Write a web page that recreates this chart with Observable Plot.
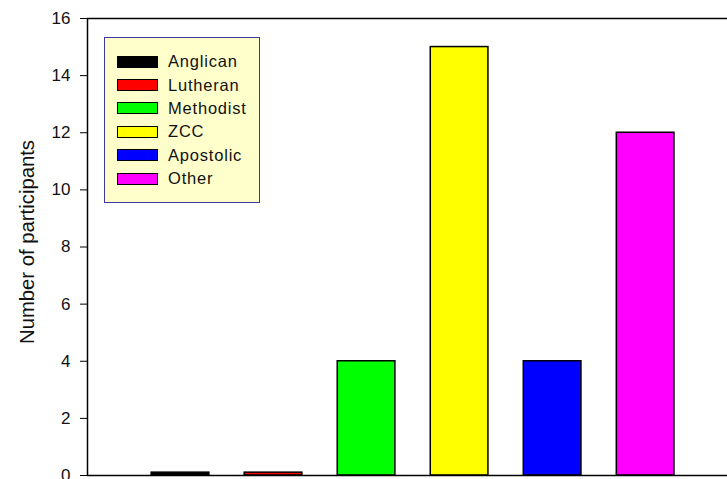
<!DOCTYPE html>
<html>
<head>
<meta charset="utf-8">
<script src="https://cdn.jsdelivr.net/npm/d3@7"></script>
<script src="https://cdn.jsdelivr.net/npm/@observablehq/plot@0.6"></script>
<style>
  html, body { margin: 0; padding: 0; background: #fff; overflow: hidden; }
  #wrap { position: relative; width: 727px; height: 479px; }
  #legend {
    position: absolute; left: 104px; top: 37px; width: 156px; height: 166px;
    background: #ffffcc; border: 1px solid #3a3aa0; box-sizing: border-box;
    font-family: "Liberation Sans", Arial, sans-serif; font-size: 16.5px; color: #111;
    padding-top: 12px;
  }
  .row { display: flex; align-items: center; height: 23.4px; }
  .sw { width: 41px; height: 12px; border: 1px solid #000; margin-left: 12px; margin-right: 10px; box-sizing: border-box; flex: none; }
  .lb { letter-spacing: 0.8px; white-space: nowrap; }
</style>
</head>
<body>
<div id="wrap"></div>
<script>
const categories = ["Anglican", "Lutheran", "Methodist", "ZCC", "Apostolic", "Other"];
const values = [0.1, 0.1, 4, 15, 4, 12];
const colors = ["#000000", "#ff0000", "#00ff00", "#ffff00", "#0000ff", "#ff00ff"];
const yTicks = [0, 2, 4, 6, 8, 10, 12, 14, 16];

const data = categories.map((c, i) => ({category: c, pos: i + 1, value: values[i], color: colors[i]}));

const chart = Plot.plot({
  width: 727,
  height: 479,
  marginLeft: 87,
  marginRight: 0,
  marginTop: 18,
  marginBottom: 4,
  style: {fontFamily: "'Liberation Sans', Arial, sans-serif", fontSize: "17px", color: "#111", overflow: "visible"},
  x: {domain: [0, 6.88], axis: null},
  y: {domain: [0, 16], ticks: yTicks, axis: null, label: null},
  marks: [
    Plot.rectY(data, {
      x1: d => d.pos - 0.31,
      x2: d => d.pos + 0.31,
      y1: 0,
      y2: "value",
      fill: "color",
      stroke: "#000",
      strokeWidth: 1.5
    }),
    Plot.ruleY([0, 16], {stroke: "#000", strokeWidth: 1.5}),
    Plot.ruleX([0], {stroke: "#000", strokeWidth: 1.5}),
    Plot.axisY({ticks: yTicks, tickSize: 7, tickFormat: () => "", stroke: "#000", strokeWidth: 1, label: null}),
    Plot.text(yTicks, {
      y: d => d, text: d => String(d), frameAnchor: "left", dx: -17, textAnchor: "end",
      fontSize: 17, fill: "#111"
    }),
    Plot.text(["Number of participants"], {
      frameAnchor: "left", dx: -54, dy: -5, rotate: -90, textAnchor: "middle", lineAnchor: "bottom",
      fontSize: 20.3, fill: "#111"
    })
  ]
});
const wrap = document.getElementById("wrap");
wrap.appendChild(chart);

const legend = document.createElement("div");
legend.id = "legend";
data.forEach(d => {
  const row = document.createElement("div");
  row.className = "row";
  const sw = document.createElement("div");
  sw.className = "sw";
  sw.style.background = d.color;
  const lb = document.createElement("span");
  lb.className = "lb";
  lb.textContent = d.category;
  row.appendChild(sw); row.appendChild(lb);
  legend.appendChild(row);
});
wrap.appendChild(legend);
</script>
</body>
</html>
